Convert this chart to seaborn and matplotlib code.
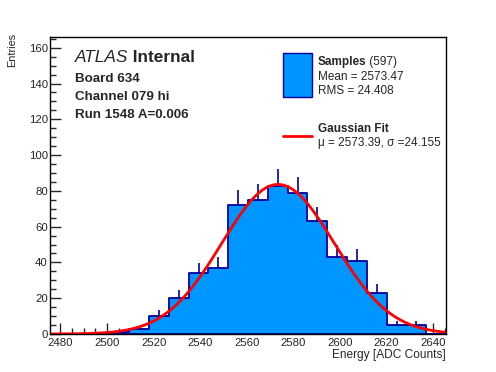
import numpy as np
import pandas as pd
import matplotlib
matplotlib.use("Agg")
import matplotlib.pyplot as plt
from matplotlib.ticker import MultipleLocator
from matplotlib.patches import Rectangle
from matplotlib.lines import Line2D
import seaborn as sns

# ---- data ----
bin_edges = [2475.5 + 8.5 * i for i in range(21)]
bin_counts = [0, 0, 0, 1, 3, 10, 20, 34, 37, 72, 75, 83, 79, 63, 43, 41, 23, 5, 5, 0]
fit_mu = 2573.39
fit_sigma = 24.155
fit_const = 83.6
x_ticks = [2480, 2500, 2520, 2540, 2560, 2580, 2600, 2620, 2640]
y_ticks = [0, 20, 40, 60, 80, 100, 120, 140, 160]

sns.set_style("ticks")
plt.rcParams["font.family"] = ["Liberation Sans", "DejaVu Sans"]

W, H = 496, 372
fig = plt.figure(figsize=(W / 100, H / 100), dpi=100)
ax = fig.add_axes([50 / W, 38 / H, 396 / W, 297 / H])

centers = [(bin_edges[i] + bin_edges[i + 1]) / 2 for i in range(len(bin_counts))]
df = pd.DataFrame({"energy": centers, "count": bin_counts})

fill_col = "#0096ff"
edge_col = "#00009c"
sns.histplot(data=df, x="energy", weights="count", bins=bin_edges, element="step",
             fill=True, color=fill_col, edgecolor=edge_col, linewidth=1.3, alpha=1,
             ax=ax, zorder=2)

# error bars (upper half visible)
cnt = np.array(bin_counts, dtype=float)
cen = np.array(centers)
m = cnt > 0
ax.vlines(cen[m], cnt[m], cnt[m] + np.sqrt(cnt[m]), color=edge_col, linewidth=1.2, zorder=3)

# gaussian fit curve
xs = np.linspace(bin_edges[0], bin_edges[-1], 400)
ys = fit_const * np.exp(-0.5 * ((xs - fit_mu) / fit_sigma) ** 2)
sns.lineplot(x=xs, y=ys, color="red", linewidth=2, ax=ax, zorder=4)

ax.set_xlim(bin_edges[0], bin_edges[-1])
ax.set_ylim(0, 166)
ax.set_xticks(x_ticks)
ax.set_yticks(y_ticks)
ax.xaxis.set_minor_locator(MultipleLocator(5))
ax.yaxis.set_minor_locator(MultipleLocator(5))
ax.tick_params(which="major", direction="in", length=8, width=1, labelsize=8.2,
               top=False, right=False, zorder=5)
ax.tick_params(which="minor", direction="in", length=4, width=1, top=False, right=False)
ax.tick_params(axis="x", pad=3)
ax.tick_params(axis="y", pad=1.5)
ax.set_xlabel("")
ax.set_ylabel("")
for s in ax.spines.values():
    s.set_visible(True)
    s.set_color("black")
    s.set_linewidth(1)
    s.set_zorder(6)

def fx(px):
    return px / W

def fy(py):
    return 1 - py / H

fig.text(fx(12), fy(33), "Entries", rotation=90, ha="center", va="top", fontsize=7.8)
fig.text(fx(446), fy(358), "Energy [ADC Counts]", ha="right", va="baseline", fontsize=8.6)

# ATLAS label block
t = fig.text(fx(75), fy(61.5), "ATLAS", fontsize=12.4, style="italic", va="baseline")
ax.annotate(" Internal", xy=(1, 0), xycoords=t, va="bottom", ha="left",
            fontsize=12.4, fontweight="bold", annotation_clip=False)
fig.text(fx(75), fy(82.3), "Board 634", fontsize=9.6, fontweight="bold", va="baseline")
fig.text(fx(75), fy(100), "Channel 079 hi", fontsize=9.6, fontweight="bold", va="baseline")
fig.text(fx(75), fy(117.7), "Run 1548 A=0.006", fontsize=9.6, fontweight="bold", va="baseline")

# legend
fig.patches.append(Rectangle((fx(283), fy(96.7)), fx(311.7) - fx(283), fy(53.3) - fy(96.7),
                             transform=fig.transFigure, facecolor=fill_col,
                             edgecolor=edge_col, linewidth=1.0))
fig.lines.append(Line2D([fx(283), fx(311.7)], [fy(136), fy(136)], transform=fig.transFigure,
                        color="red", linewidth=2))
lx = fx(317.5)
fs = 8.5
s = fig.text(lx, fy(65.5), "Samples", fontsize=fs, fontweight="bold", va="baseline")
ax.annotate(" (597)", xy=(1, 0), xycoords=s, va="bottom", ha="left", fontsize=fs,
            annotation_clip=False)
fig.text(lx, fy(79.5), "Mean = 2573.47", fontsize=fs, va="baseline")
fig.text(lx, fy(93.5), "RMS = 24.408", fontsize=fs, va="baseline")
fig.text(lx, fy(132.5), "Gaussian Fit", fontsize=fs, fontweight="bold", va="baseline")
fig.text(lx, fy(146), "\u03bc = 2573.39, \u03c3 =24.155", fontsize=fs, va="baseline")

fig.savefig("out.png", dpi=100)
